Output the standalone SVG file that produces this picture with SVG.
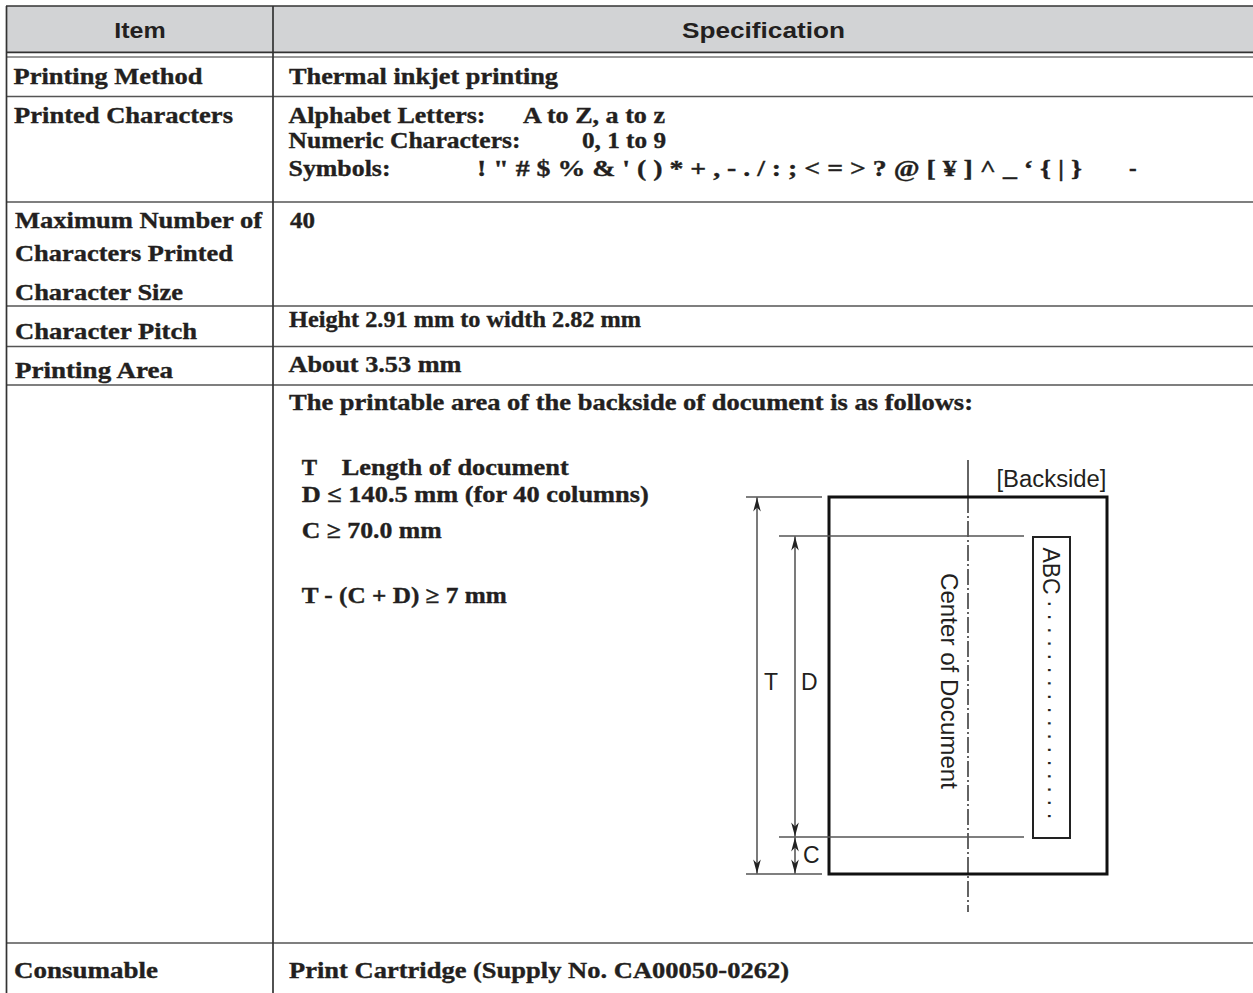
<svg xmlns="http://www.w3.org/2000/svg" width="1253" height="993" viewBox="0 0 1253 993">
<style>
.hd{font-family:"Liberation Sans",Arial,sans-serif;font-weight:bold;font-size:22px;fill:#231f20}
.tx{font-family:"Liberation Serif","Times New Roman",serif;font-weight:bold;font-size:23px;fill:#231f20;stroke:#231f20;stroke-width:0.35px}
.sf{font-family:"Liberation Sans",Arial,sans-serif;font-size:23px;fill:#231f20}
.rl{stroke:#555;stroke-width:1.7;fill:none}
.dk{stroke:#333;stroke-width:1.7;fill:none}
.ext{stroke:#555;stroke-width:1.5;fill:none}
.dim{stroke:#333;stroke-width:1.3;fill:none;marker-start:url(#ah);marker-end:url(#ah)}
</style>
<defs>
<marker id="ah" viewBox="-15 -4 16 8" refX="0" refY="0" markerWidth="16" markerHeight="8" markerUnits="userSpaceOnUse" orient="auto-start-reverse">
<path d="M0,0 L-14,-3.8 L-10,0 L-14,3.8 Z" fill="#222"/>
</marker>
</defs>
<rect width="1253" height="993" fill="#fff"/>

<g id="table-grid">
<rect x="6" y="6" width="1247" height="46.5" fill="#d2d3d5"/>
<line class="dk" x1="6" y1="6" x2="1253" y2="6"/>
<line class="dk" x1="6" y1="52.3" x2="1253" y2="52.3"/>
<line x1="6" y1="57" x2="1253" y2="57" stroke="#777" stroke-width="1.3"/>
<line class="rl" x1="6" y1="96.5" x2="1253" y2="96.5"/>
<line class="rl" x1="6" y1="202" x2="1253" y2="202"/>
<line class="rl" x1="6" y1="306" x2="1253" y2="306"/>
<line class="rl" x1="6" y1="346.5" x2="1253" y2="346.5"/>
<line class="rl" x1="6" y1="385" x2="1253" y2="385"/>
<line class="rl" x1="6" y1="943" x2="1253" y2="943"/>
<line class="dk" x1="6.5" y1="6" x2="6.5" y2="993"/>
<line class="dk" x1="273" y1="6" x2="273" y2="993"/>
</g>

<g id="header">
<text class="hd" x="114.3" y="38.3" textLength="51.4" lengthAdjust="spacingAndGlyphs">Item</text>
<text class="hd" x="682" y="38.3" textLength="163" lengthAdjust="spacingAndGlyphs">Specification</text>
</g>

<g id="row-printing-method">
<text class="tx" x="13.5" y="83.5" textLength="189" lengthAdjust="spacingAndGlyphs">Printing Method</text>
<text class="tx" x="289" y="83.5" textLength="269" lengthAdjust="spacingAndGlyphs">Thermal inkjet printing</text>
</g>

<g id="row-printed-characters">
<text class="tx" x="14" y="123" textLength="219" lengthAdjust="spacingAndGlyphs">Printed Characters</text>
<text class="tx" x="288.5" y="123" textLength="197" lengthAdjust="spacingAndGlyphs">Alphabet Letters:</text>
<text class="tx" x="523" y="123" textLength="142" lengthAdjust="spacingAndGlyphs">A to Z, a to z</text>
<text class="tx" x="288.5" y="148" textLength="232" lengthAdjust="spacingAndGlyphs">Numeric Characters:</text>
<text class="tx" x="582" y="148" textLength="84" lengthAdjust="spacingAndGlyphs">0, 1 to 9</text>
<text class="tx" x="288.5" y="176" textLength="102" lengthAdjust="spacingAndGlyphs">Symbols:</text>
<text class="tx" x="477" y="176" textLength="605" lengthAdjust="spacingAndGlyphs">! " # $ % &amp; ' ( ) * + , - . / : ; &lt; = &gt; ? @ [ ¥ ] ^ _ ‘ { | }</text>
<text class="tx" x="1129" y="176">-</text>
</g>

<g id="row-max-characters">
<text class="tx" x="15" y="228" textLength="247" lengthAdjust="spacingAndGlyphs">Maximum Number of</text>
<text class="tx" x="15" y="261" textLength="218" lengthAdjust="spacingAndGlyphs">Characters Printed</text>
<text class="tx" x="15" y="300" textLength="168" lengthAdjust="spacingAndGlyphs">Character Size</text>
<text class="tx" x="290" y="228" textLength="25" lengthAdjust="spacingAndGlyphs">40</text>
</g>

<g id="row-character-pitch">
<text class="tx" x="15" y="339" textLength="182" lengthAdjust="spacingAndGlyphs">Character Pitch</text>
<text class="tx" x="289" y="327" textLength="352" lengthAdjust="spacingAndGlyphs">Height 2.91 mm to width 2.82 mm</text>
</g>

<g id="row-printing-area">
<text class="tx" x="15" y="378" textLength="158" lengthAdjust="spacingAndGlyphs">Printing Area</text>
<text class="tx" x="288.5" y="372" textLength="173" lengthAdjust="spacingAndGlyphs">About 3.53 mm</text>
</g>

<g id="row-printable-area">
<text class="tx" x="289" y="410" textLength="684" lengthAdjust="spacingAndGlyphs">The printable area of the backside of document is as follows:</text>
<text class="tx" x="301.7" y="475">T</text>
<text class="tx" x="341.7" y="475" textLength="227" lengthAdjust="spacingAndGlyphs">Length of document</text>
<text class="tx" x="301.7" y="502" textLength="347" lengthAdjust="spacingAndGlyphs">D ≤ 140.5 mm (for 40 columns)</text>
<text class="tx" x="301.7" y="538" textLength="140" lengthAdjust="spacingAndGlyphs">C ≥ 70.0 mm</text>
<text class="tx" x="301.7" y="603" textLength="205" lengthAdjust="spacingAndGlyphs">T - (C + D) ≥ 7 mm</text>
</g>

<g id="backside-diagram">
<g id="document">
<rect x="829" y="497" width="278" height="377" fill="none" stroke="#111" stroke-width="3"/>
<text class="sf" x="996.5" y="486.7" textLength="110" lengthAdjust="spacingAndGlyphs">[Backside]</text>
</g>
<g id="center-line">
<line x1="968" y1="460" x2="968" y2="497" stroke="#111" stroke-width="1.3"/>
<line x1="968" y1="497" x2="968" y2="912" stroke="#111" stroke-width="1.3" stroke-dasharray="16 3 2 3"/>
<text class="sf" transform="translate(941,573) rotate(90)" font-size="24" textLength="216" lengthAdjust="spacingAndGlyphs">Center of Document</text>
</g>
<g id="print-area">
<rect x="1033" y="537" width="37" height="301" fill="none" stroke="#222" stroke-width="2"/>
<text class="sf" transform="translate(1042.5,547.5) rotate(90)" textLength="47" lengthAdjust="spacingAndGlyphs">ABC</text>
<text class="sf" transform="translate(1042.5,600) rotate(90)" textLength="220" lengthAdjust="spacing">·················</text>
</g>
<g id="connectors">
<line class="ext" x1="746" y1="497" x2="822" y2="497"/>
<line class="ext" x1="779" y1="536" x2="1024" y2="536"/>
<line class="ext" x1="779" y1="837" x2="1024" y2="837"/>
<line class="ext" x1="746" y1="874" x2="822" y2="874"/>
<line class="dim" x1="757" y1="497.5" x2="757" y2="873.5"/>
<line class="dim" x1="795" y1="536.5" x2="795" y2="836.5"/>
<line class="dim" x1="795" y1="837.5" x2="795" y2="873.5"/>
</g>
<g id="dimension-labels">
<text class="sf" x="764" y="690">T</text>
<text class="sf" x="801" y="690">D</text>
<text class="sf" x="803" y="863">C</text>
</g>
</g>

<g id="row-consumable">
<text class="tx" x="14" y="978" textLength="144" lengthAdjust="spacingAndGlyphs">Consumable</text>
<text class="tx" x="289" y="978" textLength="500" lengthAdjust="spacingAndGlyphs">Print Cartridge (Supply No. CA00050-0262)</text>
</g>
</svg>
